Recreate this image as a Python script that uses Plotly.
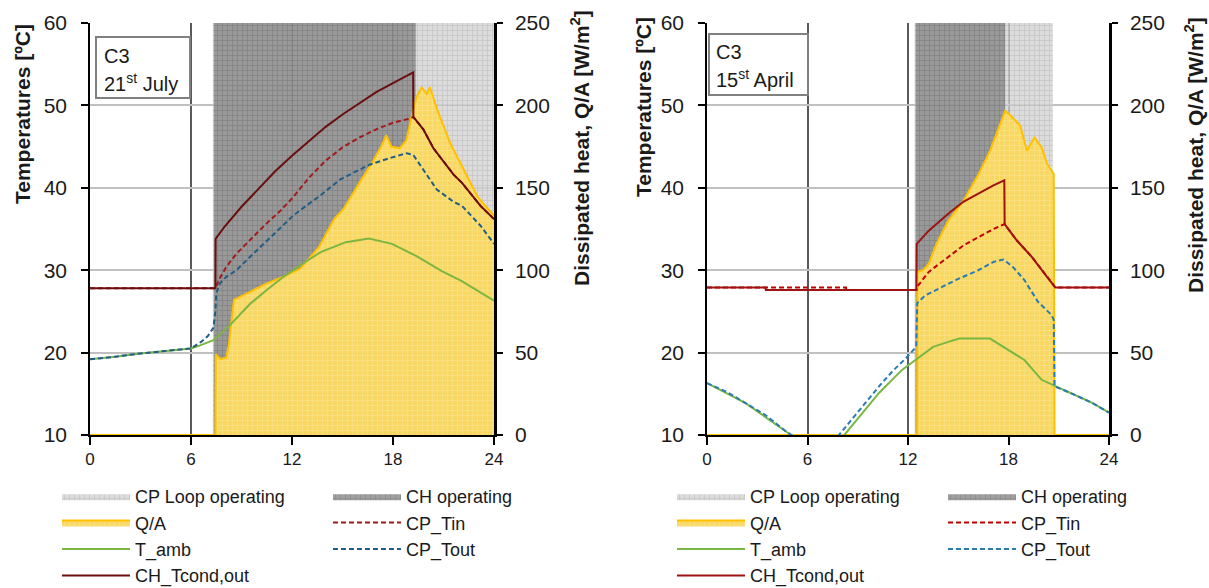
import plotly.graph_objects as go

# ---------------- data : 21st July ----------------
jul_cp_loop = [7.30, 24.0]     # CP loop operating period [h]
jul_ch_on = [7.35, 19.35]      # CH operating period [h]

jul_q_h = [0, 7.45, 7.47, 7.75, 8.1, 8.25, 8.55, 9.5, 10.5, 11.5, 12.5, 13.6, 14.5, 15.05,
           15.4, 16.0, 16.8, 17.3, 17.6, 17.9, 18.4, 18.8, 19.1, 19.4, 19.7, 20.0, 20.2, 20.6,
           21.4, 22.2, 23.0, 23.4, 24]
jul_q = [0, 0, 49, 46, 47, 55, 82, 87, 92, 96, 101, 114, 131, 137,
         143, 153, 166, 175, 182, 175, 174, 179, 193, 205, 211, 207, 211, 198,
         177, 161, 145, 140, 133]

jul_tamb_h = [0, 1.5, 3, 4.5, 6, 6.5, 7.33, 8.3, 9.5, 10.5, 11.5, 12.5, 13.7, 15.2, 16.57,
              17.94, 19.4, 20.9, 22.06, 24]
jul_tamb = [19.2, 19.5, 19.9, 20.2, 20.5, 20.85, 21.5, 23.3, 25.9, 27.6, 29.2, 30.6, 32.2, 33.4, 33.85,
            33.2, 31.7, 29.9, 28.7, 26.3]

jul_tout_h = [0, 1.5, 3, 4.5, 6, 6.6, 7.0, 7.33, 7.45, 7.5, 7.72, 8.1, 8.7, 9.5, 10.1, 10.6,
              12.06, 12.5, 13.7, 14.85, 16.6, 17.8, 18.8, 19.2, 19.8, 20.6, 21.6, 22.1, 23.2, 24]
jul_tout = [19.2, 19.5, 19.9, 20.2, 20.5, 21.3, 22.0, 23.0, 25.0, 27.2, 28.4, 29.2, 30.0, 31.6, 32.8, 33.7,
            36.6, 37.3, 39.1, 41.0, 42.8, 43.6, 44.2, 44.0, 42.2, 39.8, 38.3, 37.8, 35.4, 33.2]

jul_tin_h = [0, 7.45, 7.7, 8.1, 8.7, 9.5, 10.4, 11.3, 12.0, 13.0, 14.0, 15.0, 16.0, 17.0, 18.0,
             19.0, 19.2, 19.8, 20.4, 21.0, 21.6, 22.1, 23.2, 24]
jul_tin = [27.8, 27.8, 29.0, 30.4, 32.0, 33.7, 35.5, 37.2, 38.7, 41.2, 43.3, 44.9, 46.1, 47.1, 47.9,
           48.4, 48.6, 47.1, 44.8, 43.2, 41.6, 40.6, 37.8, 36.2]

jul_ch_h = [0, 7.45, 7.46, 8.0, 9.0, 10.0, 11.0, 12.0, 13.0, 14.0, 15.0, 16.0, 17.0, 18.0,
            19.1, 19.2, 19.21, 19.8, 20.4, 21.0, 21.6, 22.1, 23.2, 24]
jul_ch = [27.8, 27.8, 33.8, 35.3, 37.7, 39.9, 42.0, 43.9, 45.7, 47.4, 48.9, 50.3, 51.6, 52.7,
          53.9, 54.0, 48.6, 47.1, 44.8, 43.2, 41.6, 40.6, 37.8, 36.2]

# ---------------- data : 15th April ----------------
apr_cp_loop = [12.40, 20.65]
apr_ch_on = [12.45, 17.80]

apr_q_h = [0, 12.55, 12.56, 12.9, 13.24, 13.7, 14.4, 15.3, 16.2, 16.9, 17.35, 17.8, 18.15, 18.7,
           19.1, 19.55, 19.98, 20.3, 20.7, 20.75, 24]
apr_q = [0, 0, 99, 100, 104, 116, 130, 142, 158, 172.5, 184.6, 196.7, 193.6, 187.6,
         172.5, 180.5, 174.5, 164.5, 158.4, 0, 0]

apr_tamb_h = [0, 2.28, 4.8, 7.1, 8.2, 9.13, 10.27, 11.64, 12.56, 13.5, 14.4, 15.07, 16.9, 18.04,
              18.95, 19.98, 20.8, 21.7, 23, 24]
apr_tamb = [16.3, 13.9, 10.3, 7.4, 10.0, 12.3, 15.1, 17.9, 19.3, 20.7, 21.3, 21.7, 21.7, 20.3,
            19.1, 16.7, 15.9, 15.1, 13.9, 12.7]

apr_tout_h = [0, 1.2, 2.28, 3.5, 4.8, 6.9, 7.88, 9.13, 10.27, 11.1, 11.87, 12.49, 12.55, 13.0, 13.7,
              14.84, 16.2, 17.1, 17.7, 18.26, 18.95, 19.75, 20.55, 20.7, 20.75, 21.7, 23, 24]
apr_tout = [16.3, 15.2, 13.9, 12.4, 10.3, 7.6, 10.0, 13.1, 15.9, 17.8, 19.3, 20.7, 26.0, 26.9, 27.6,
            28.8, 30.0, 31.0, 31.3, 30.4, 28.8, 26.2, 24.6, 24.0, 15.9, 15.1, 13.9, 12.7]

apr_tin_h = [0, 8.3, 8.31, 12.5, 12.55, 13.24, 14.4, 15.3, 16.2, 17.1, 17.77, 18.5, 19.4, 20.3, 20.8, 24]
apr_tin = [27.9, 27.9, 27.6, 27.6, 28.0, 29.8, 31.6, 33.0, 34.0, 35.0, 35.6, 33.6, 31.6, 29.2, 27.9, 27.9]

apr_ch_h = [0, 3.5, 3.51, 12.5, 12.52, 13.24, 13.7, 14.4, 15.3, 16.2, 17.1, 17.75, 17.77, 18.5,
            19.4, 20.3, 20.8, 24]
apr_ch = [27.9, 27.9, 27.6, 27.6, 33.2, 34.8, 35.6, 36.85, 38.3, 39.3, 40.3, 40.9, 35.6, 33.6,
          31.6, 29.2, 27.9, 27.9]

# ---------------- styling ----------------
T_RANGE = [10, 60]
Q_RANGE = [0, 250]
FONT = "Liberation Sans, Arial, sans-serif"
W, H = 1209, 588

# base axis of each chart = Q/A (right), overlay = temperatures (left) so lines sit on top
charts = [
    dict(xa="x", yq="y", yt="y2", lg1="legend", lg2="legend2",
         cp=jul_cp_loop, ch=jul_ch_on, q=(jul_q_h, jul_q), tamb=(jul_tamb_h, jul_tamb),
         tout=(jul_tout_h, jul_tout), tin=(jul_tin_h, jul_tin), chT=(jul_ch_h, jul_ch),
         c_ch="#6B0E0E", c_tin="#A21A1A", c_tout="#1F5E86", c_amb="#7CB542"),
    dict(xa="x2", yq="y3", yt="y4", lg1="legend3", lg2="legend4",
         cp=apr_cp_loop, ch=apr_ch_on, q=(apr_q_h, apr_q), tamb=(apr_tamb_h, apr_tamb),
         tout=(apr_tout_h, apr_tout), tin=(apr_tin_h, apr_tin), chT=(apr_ch_h, apr_ch),
         c_ch="#9E1212", c_tin="#C00000", c_tout="#2A7AB4", c_amb="#79B745"),
]

fig = go.Figure()
for c in charts:
    s, e = c["cp"]
    fig.add_trace(go.Scatter(
        x=[s, s, e, e, s], y=[Q_RANGE[0], Q_RANGE[1], Q_RANGE[1], Q_RANGE[0], Q_RANGE[0]],
        xaxis=c["xa"], yaxis=c["yq"], mode="lines", line=dict(width=0), fill="toself",
        fillcolor="#D0D0D0", opacity=0.82,
        fillpattern=dict(shape="+", bgcolor="#D4D4D4", fgcolor="#A0A0A0", size=5, solidity=0.3),
        name="CP Loop operating", legend=c["lg1"], legendrank=1, hoverinfo="skip"))
    s, e = c["ch"]
    fig.add_trace(go.Scatter(
        x=[s, s, e, e, s], y=[Q_RANGE[0], Q_RANGE[1], Q_RANGE[1], Q_RANGE[0], Q_RANGE[0]],
        xaxis=c["xa"], yaxis=c["yq"], mode="lines", line=dict(width=0), fill="toself",
        fillcolor="#858585", opacity=0.82,
        fillpattern=dict(shape="+", bgcolor="#8A8A8A", fgcolor="#5E5E5E", size=5, solidity=0.3),
        name="CH operating", legend=c["lg2"], legendrank=1, hoverinfo="skip"))
    fig.add_trace(go.Scatter(
        x=c["q"][0], y=c["q"][1], xaxis=c["xa"], yaxis=c["yq"], mode="lines",
        line=dict(color="#FFC000", width=2), fill="tozeroy", fillcolor="#F8D862",
        fillpattern=dict(shape="+", bgcolor="#F8D862", fgcolor="#FCEBB0", size=5, solidity=0.25),
        name="Q/A", legend=c["lg1"], legendrank=2))
    fig.add_trace(go.Scatter(
        x=c["tamb"][0], y=c["tamb"][1], xaxis=c["xa"], yaxis=c["yt"], mode="lines",
        line=dict(color=c["c_amb"], width=2), name="T_amb", legend=c["lg1"], legendrank=3))
    fig.add_trace(go.Scatter(
        x=c["tout"][0], y=c["tout"][1], xaxis=c["xa"], yaxis=c["yt"], mode="lines",
        line=dict(color=c["c_tout"], width=2, dash="5px,3px"), name="CP_Tout",
        legend=c["lg2"], legendrank=3))
    fig.add_trace(go.Scatter(
        x=c["tin"][0], y=c["tin"][1], xaxis=c["xa"], yaxis=c["yt"], mode="lines",
        line=dict(color=c["c_tin"], width=2, dash="5px,3px"), name="CP_Tin",
        legend=c["lg2"], legendrank=2))
    fig.add_trace(go.Scatter(
        x=c["chT"][0], y=c["chT"][1], xaxis=c["xa"], yaxis=c["yt"], mode="lines",
        line=dict(color=c["c_ch"], width=2), name="CH_Tcond,out",
        legend=c["lg1"], legendrank=4))

ydom = [1 - 435 / H, 1 - 23 / H]
xdoms = [[90 / W, 494 / W], [707 / W, 1109 / W]]

def xax(dom, anchor):
    return dict(domain=dom, anchor=anchor, range=[0, 24], tickvals=[0, 6, 12, 18, 24],
                showgrid=True, gridcolor="#595959", gridwidth=1.5, zeroline=False,
                showline=True, linecolor="black", linewidth=1.5, ticks="outside",
                ticklen=8, tickcolor="black", tickwidth=1.5, automargin=False,
                tickfont=dict(size=17, color="#1a1a1a", family=FONT))

def yq(anchor):
    return dict(domain=ydom, anchor=anchor, side="right", range=Q_RANGE,
                tickvals=[0, 50, 100, 150, 200, 250], showgrid=False, zeroline=False,
                showline=True, linecolor="black", linewidth=2.5, ticks="outside",
                ticklen=6, tickcolor="black", tickwidth=2, ticklabelstandoff=8, automargin=False,
                tickfont=dict(size=21, color="#1a1a1a", family=FONT))

def yt(anchor, over):
    return dict(domain=ydom, anchor=anchor, overlaying=over, side="left", range=T_RANGE,
                tickvals=[10, 20, 30, 40, 50, 60],
                showgrid=True, gridcolor="#C0C0C0", gridwidth=2, zeroline=False,
                showline=True, linecolor="black", linewidth=1.5, ticks="outside",
                ticklen=7, tickcolor="black", tickwidth=1.5, ticklabelstandoff=10, automargin=False,
                tickfont=dict(size=21, color="#1a1a1a", family=FONT))

def legend(xpx, ytop):
    return dict(x=xpx / W, y=1 - ytop / H, xanchor="left", yanchor="top",
                orientation="v", itemwidth=68, bgcolor="rgba(0,0,0,0)",
                font=dict(size=18, color="#1a1a1a", family=FONT), traceorder="normal",
                itemclick=False, itemdoubleclick=False)

annotations = []
shapes = []
titles = [
    ("Temperatures [ºC]", 22, 114),
    ("Dissipated heat, Q/A [W/m<sup>2</sup>]", 580, 148),
    ("Temperatures [ºC]", 643, 107),
    ("Dissipated heat, Q/A [W/m<sup>2</sup>]", 1194, 155),
]
for txt, xp, yp in titles:
    annotations.append(dict(text=txt, x=xp / W, y=1 - yp / H, xref="paper", yref="paper",
                            xanchor="center", yanchor="middle", textangle=-90, showarrow=False,
                            font=dict(size=21, color="#1a1a1a", family=FONT, weight="bold")))

boxes = [((96, 37, 190, 98), 102, ["C3", "21<sup>st</sup> July"], (56, 82)),
         ((709, 34, 808, 95), 714, ["C3", "15<sup>st</sup> April"], (52, 78))]
for (x0, y0, x1, y1), tx, lines, ys in boxes:
    shapes.append(dict(type="rect", xref="paper", yref="paper", x0=x0 / W, x1=x1 / W,
                       y0=1 - y0 / H, y1=1 - y1 / H, line=dict(color="#808080", width=2),
                       fillcolor="white", layer="above"))
    for t, yy in zip(lines, ys):
        annotations.append(dict(text=t, x=tx / W, y=1 - yy / H, xref="paper", yref="paper",
                                xanchor="left", yanchor="middle", showarrow=False,
                                font=dict(size=20, color="#1a1a1a", family=FONT)))

fig.update_layout(
    width=W, height=H, margin=dict(l=0, r=0, t=0, b=0, autoexpand=False),
    paper_bgcolor="white", plot_bgcolor="white", showlegend=True,
    font=dict(family=FONT, color="#1a1a1a"),
    xaxis=xax(xdoms[0], "y"), yaxis=yq("x"), yaxis2=yt("x", "y"),
    xaxis2=xax(xdoms[1], "y3"), yaxis3=yq("x2"), yaxis4=yt("x2", "y3"),
    legend=legend(57, 478), legend2=legend(328, 478),
    legend3=legend(672, 478), legend4=legend(943, 478),
    annotations=annotations, shapes=shapes,
)

fig.write_html("out.html", config={"displayModeBar": False},
               post_script="document.body.style.margin='0px';document.body.style.overflow='hidden';")
